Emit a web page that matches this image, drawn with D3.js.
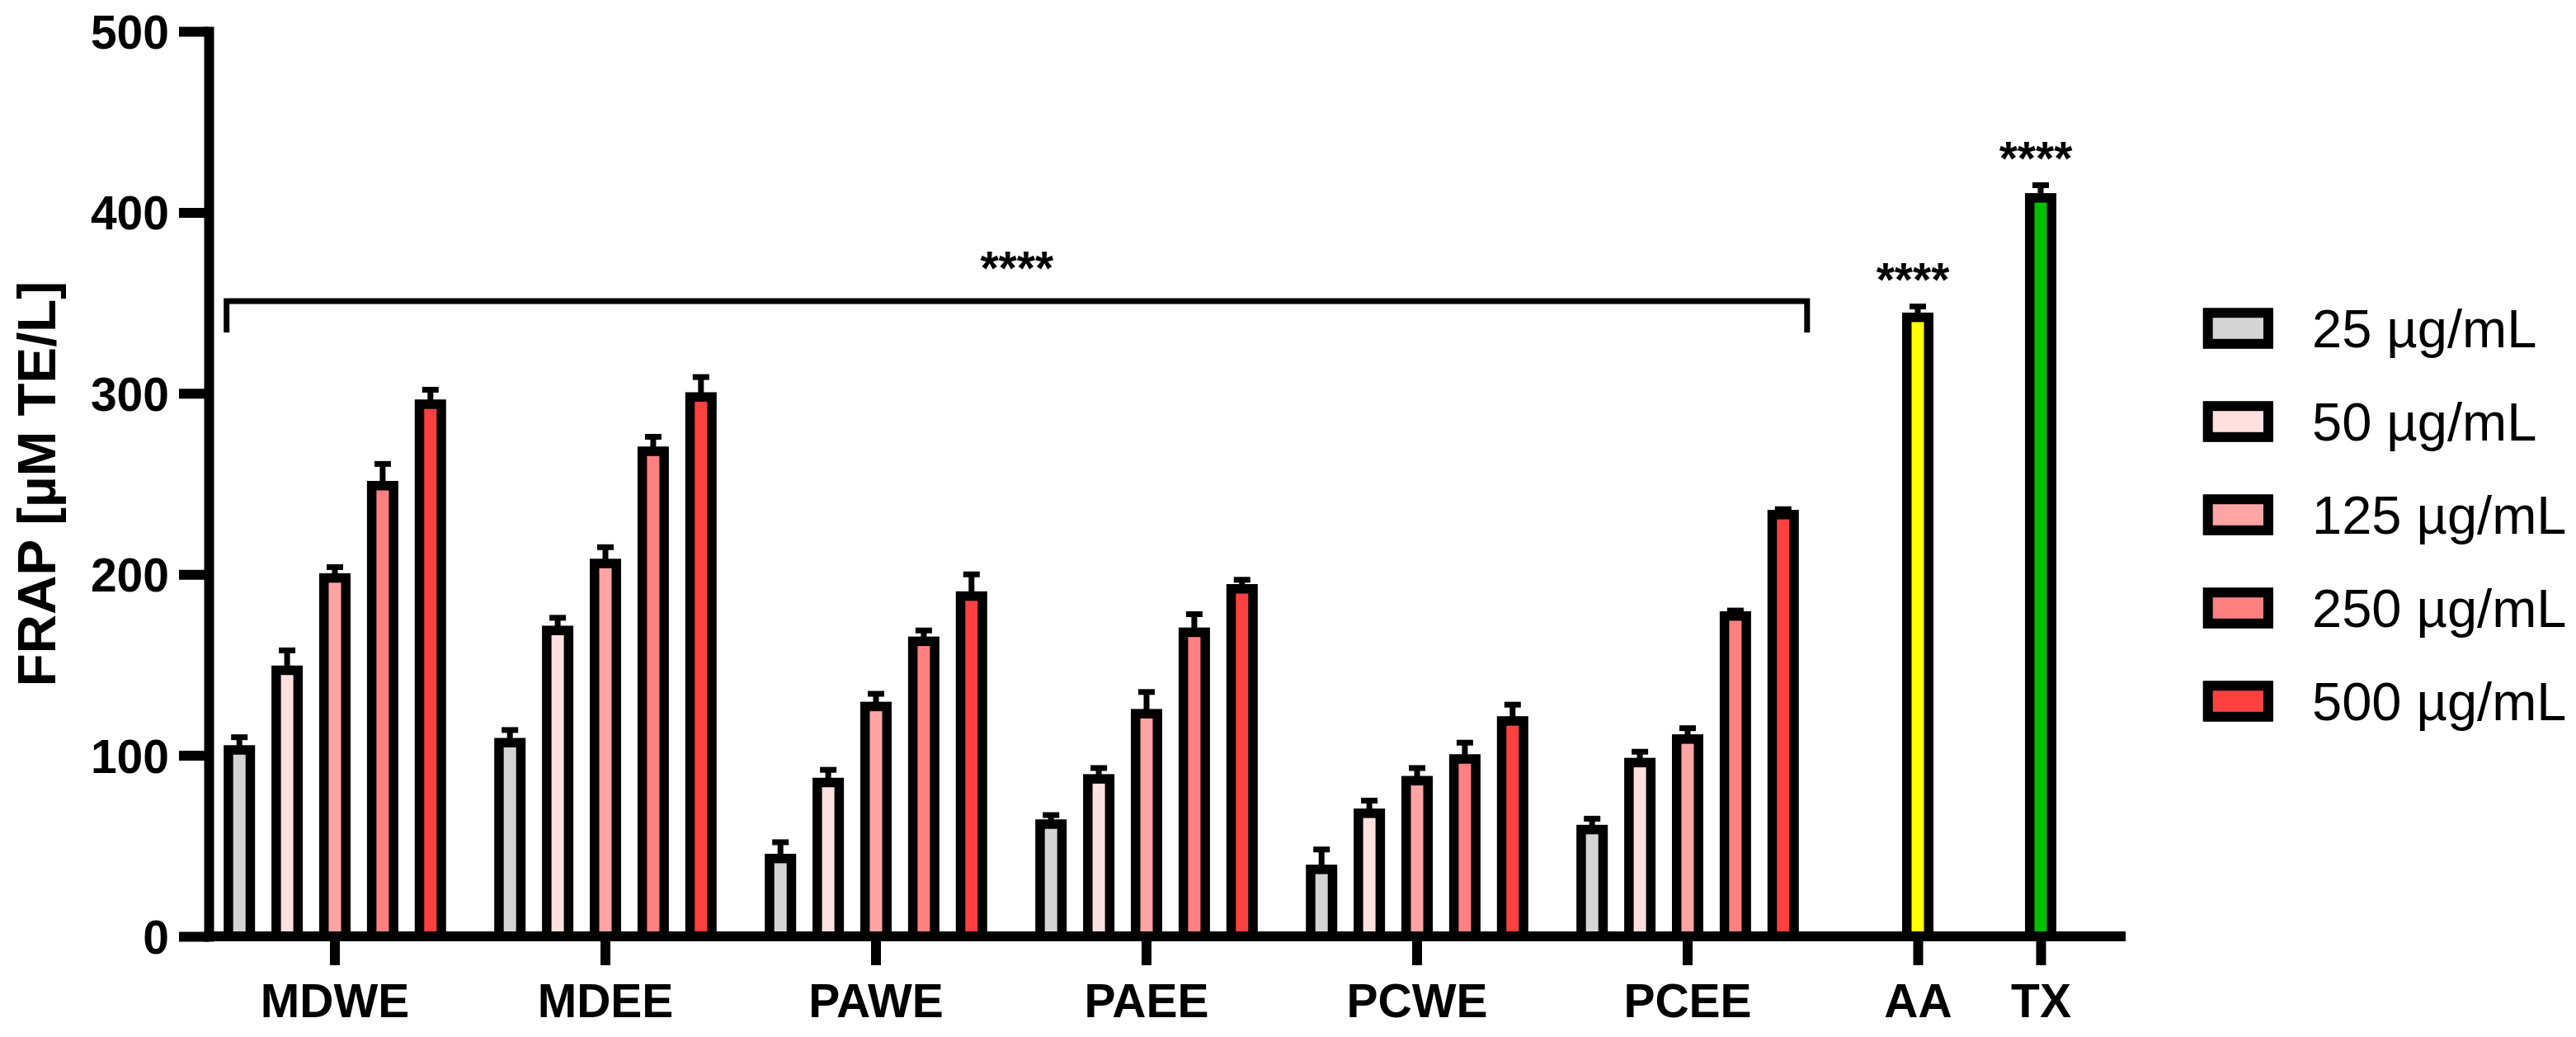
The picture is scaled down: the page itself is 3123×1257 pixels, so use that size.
<!DOCTYPE html>
<html>
<head>
<meta charset="utf-8">
<script src="https://cdn.jsdelivr.net/npm/d3@7"></script>
<style>
  html, body { margin: 0; padding: 0; background: #fff; }
  svg { display: block; }
  text { font-family: "Liberation Sans", Arial, sans-serif; fill: #000; }
</style>
</head>
<body>
<svg id="chart" width="3123" height="1257"></svg>
<script>
// ---------------- data ----------------
const categories = ["MDWE", "MDEE", "PAWE", "PAEE", "PCWE", "PCEE"];
const concentrations = ["25 µg/mL", "50 µg/mL", "125 µg/mL", "250 µg/mL", "500 µg/mL"];
const mean25  = [103, 107, 43, 62, 37, 59];
const mean50  = [147, 169, 85, 87, 68, 96];
const mean125 = [198, 206, 127, 123, 86, 109];
const mean250 = [249, 268, 163, 168, 98, 177];
const mean500 = [294, 298, 188, 192, 119, 233];
const err25  = [7, 7, 9, 5, 11, 6];
const err50  = [11, 7, 7, 6, 7, 6];
const err125 = [6, 9, 7, 12, 7, 6];
const err250 = [12, 8, 6, 10, 9, 3];
const err500 = [8, 11, 12, 5, 9, 3];
const controls = ["AA", "TX"];
const controlMean = [342, 408];
const controlErr = [6, 7];
const yTicks = [0, 100, 200, 300, 400, 500];
const yTitle = "FRAP [µM TE/L]";
const sigLabel = "****";
const bracketValue = 351;

// ---------------- styles ----------------
const concColors = ["#d4d4d4", "#ffe0e0", "#ffa4a4", "#ff8080", "#ff4040"];
const controlColors = ["#ffff00", "#00c000"];
const AXIS_W = 12, BAR_STROKE = 11.5, ERR_W = 7, CAP_W = 20;

const means = [mean25, mean50, mean125, mean250, mean500];
const errs = [err25, err50, err125, err250, err500];

const svg = d3.select("#chart");
svg.append("rect").attr("width", 3123).attr("height", 1257).attr("fill", "#fff");

// ---------------- scales ----------------
const y = d3.scaleLinear().domain([0, 500]).range([1135, 38]);
const xGroup = d3.scaleBand().domain(categories).range([242, 2210]);
const xConc = d3.scaleBand().domain(concentrations)
  .range([-144.75, 144.75]).paddingInner(0.542).paddingOuter(0.271);
const xCtrl = d3.scalePoint().domain(controls).range([2325, 2474]);
const bw = xConc.bandwidth();
const gc = c => xGroup(c) + xGroup.bandwidth() / 2;

// ---------------- flatten bars ----------------
const bars = [];
categories.forEach((cat, i) => {
  concentrations.forEach((conc, j) => {
    bars.push({ cx: gc(cat) + xConc(conc) + bw / 2, v: means[j][i], e: errs[j][i], color: concColors[j] });
  });
});
controls.forEach((c, i) => {
  bars.push({ cx: xCtrl(c), v: controlMean[i], e: controlErr[i], color: controlColors[i], ctrl: true });
});

// ---------------- bars ----------------
const gBars = svg.append("g");
gBars.selectAll("rect").data(bars).join("rect")
  .attr("x", d => d.cx - bw / 2)
  .attr("width", bw)
  .attr("y", d => y(d.v))
  .attr("height", d => y(0) - y(d.v))
  .attr("fill", d => d.color)
  .attr("stroke", "#000")
  .attr("stroke-width", BAR_STROKE);

// ---------------- error bars ----------------
const gErr = svg.append("g").attr("stroke", "#000").attr("stroke-width", ERR_W);
gErr.selectAll("line.stem").data(bars).join("line").attr("class", "stem")
  .attr("x1", d => d.cx).attr("x2", d => d.cx)
  .attr("y1", d => y(d.v)).attr("y2", d => y(d.v + d.e));
gErr.selectAll("line.cap").data(bars).join("line").attr("class", "cap")
  .attr("x1", d => d.cx - CAP_W / 2).attr("x2", d => d.cx + CAP_W / 2)
  .attr("y1", d => y(d.v + d.e)).attr("y2", d => y(d.v + d.e));

// ---------------- axes ----------------
const yAxis = d3.axisLeft(y).tickValues(yTicks).tickSize(36).tickSizeOuter(0).tickPadding(12);
const gy = svg.append("g").attr("transform", "translate(253,0)").call(yAxis);
gy.select(".domain").attr("stroke-width", AXIS_W).attr("stroke-linecap", "square");
gy.selectAll(".tick line").attr("stroke-width", AXIS_W);
gy.selectAll(".tick text").attr("font-size", 57).attr("font-weight", "bold")
  .attr("font-family", "Liberation Sans, Arial, sans-serif").attr("dy", "0.36em");

// x axis line
svg.append("line").attr("x1", 247).attr("x2", 2577).attr("y1", y(0)).attr("y2", y(0))
  .attr("stroke", "#000").attr("stroke-width", AXIS_W);

function styleX(g) {
  g.select(".domain").remove();
  g.selectAll(".tick line").attr("stroke-width", AXIS_W);
  g.selectAll(".tick text").attr("font-size", 57).attr("font-weight", "bold")
    .attr("font-family", "Liberation Sans, Arial, sans-serif").attr("dy", "0").attr("y", 98);
}
svg.append("g").attr("transform", `translate(0,${y(0)})`)
  .call(d3.axisBottom(xGroup).tickSize(35).tickSizeOuter(0)).call(styleX);
svg.append("g").attr("transform", `translate(0,${y(0)})`)
  .call(d3.axisBottom(xCtrl).tickSize(35).tickSizeOuter(0)).call(styleX);

// y title
svg.append("text")
  .attr("transform", `translate(67,${(y(0) + y(500)) / 2}) rotate(-90)`)
  .attr("text-anchor", "middle").attr("font-size", 65.5).attr("font-weight", "bold")
  .text(yTitle);

// ---------------- significance ----------------
const firstBar = bars[0], lastBar = bars[categories.length * concentrations.length - 1];
const bx1 = firstBar.cx - bw / 2 - BAR_STROKE / 2 + 3.5;
const bx2 = lastBar.cx + bw / 2 + BAR_STROKE / 2 + 10;
const by = y(bracketValue);
svg.append("path")
  .attr("d", `M${bx1},${by + 38} V${by} H${bx2} V${by + 38}`)
  .attr("fill", "none").attr("stroke", "#000").attr("stroke-width", 7);
svg.append("text").attr("x", (bx1 + bx2) / 2).attr("y", by - 20)
  .attr("text-anchor", "middle").attr("font-size", 57).attr("font-weight", "bold").text(sigLabel);
svg.selectAll("text.ctrlsig").data(bars.filter(d => d.ctrl)).join("text").attr("class", "ctrlsig")
  .attr("x", d => d.cx - 6).attr("y", d => y(d.v + d.e) - 12)
  .attr("text-anchor", "middle").attr("font-size", 57).attr("font-weight", "bold").text(sigLabel);

// ---------------- legend ----------------
const leg = svg.append("g");
const rows = leg.selectAll("g").data(concentrations).join("g")
  .attr("transform", (d, i) => `translate(0,${398 + i * 113})`);
rows.append("rect").attr("x", 2676.7).attr("y", -18.8).attr("width", 73.3).attr("height", 37.6)
  .attr("fill", (d, i) => concColors[i]).attr("stroke", "#000").attr("stroke-width", 12);
rows.append("text").attr("x", 2803).attr("y", 23.3).attr("font-size", 65).text(d => d);
</script>
</body>
</html>
